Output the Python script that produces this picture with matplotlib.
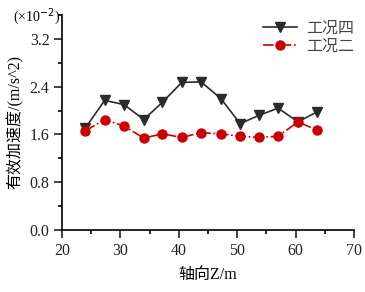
import matplotlib
matplotlib.use("Agg")
import matplotlib.pyplot as plt
from matplotlib.ticker import MultipleLocator

z = [24.0, 27.3, 30.6, 34.0, 37.2, 40.5, 43.8, 47.2, 50.5, 53.7, 57.0, 60.4, 63.7]
case4 = [1.71, 2.17, 2.10, 1.85, 2.14, 2.47, 2.48, 2.20, 1.78, 1.92, 2.04, 1.81, 1.98]
case2 = [1.66, 1.85, 1.74, 1.54, 1.61, 1.55, 1.63, 1.61, 1.57, 1.55, 1.57, 1.81, 1.67]
labels = ["工况四", "工况二"]

fam = ["Liberation Serif", "Noto Sans CJK SC"]
plt.rcParams["font.family"] = fam

fig = plt.figure(figsize=(3.65, 2.92), dpi=100)
ax = fig.add_axes([0.170, 0.212, 0.800, 0.737])

ax.plot(z, case4, color="#2b2b2b", lw=1.2, marker="v", ms=7, label=labels[0])
ax.plot(z, case2, color="#cc0000", lw=1.2, ls="-.", marker="o", ms=6.5, label=labels[1])

ax.set_xlim(20, 70)
ax.set_ylim(0, 3.6)
ax.xaxis.set_major_locator(MultipleLocator(10))
ax.xaxis.set_minor_locator(MultipleLocator(5))
ax.yaxis.set_major_locator(MultipleLocator(0.8))
ax.yaxis.set_minor_locator(MultipleLocator(0.4))
ax.yaxis.set_major_formatter(plt.FuncFormatter(lambda v, p: f"{v:.1f}"))

for s in ["top", "right"]:
    ax.spines[s].set_visible(False)
for s in ["left", "bottom"]:
    ax.spines[s].set_linewidth(1.2)
ax.tick_params(which="major", direction="out", length=5.5, width=1.2, labelsize=11.5, colors="#222222")
ax.tick_params(which="minor", direction="out", length=2.8, width=1.2)

ax.set_xlabel("轴向Z/m", fontsize=11.5, labelpad=6)
ax.set_ylabel("有效加速度/(m/s^2)", fontsize=11.5, labelpad=4)
fig.text(0.035, 0.945, "(×10$^{-2}$)", fontsize=10, ha="left", va="center")

leg = ax.legend(loc="upper right", frameon=False, fontsize=11.5, handlelength=2.1,
                handletextpad=0.6, bbox_to_anchor=(1.04, 1.025), borderaxespad=0.3,
                labelspacing=0.1)
for t in leg.get_texts():
    t.set_color("#444444")

fig.savefig("out.png", dpi=100)
